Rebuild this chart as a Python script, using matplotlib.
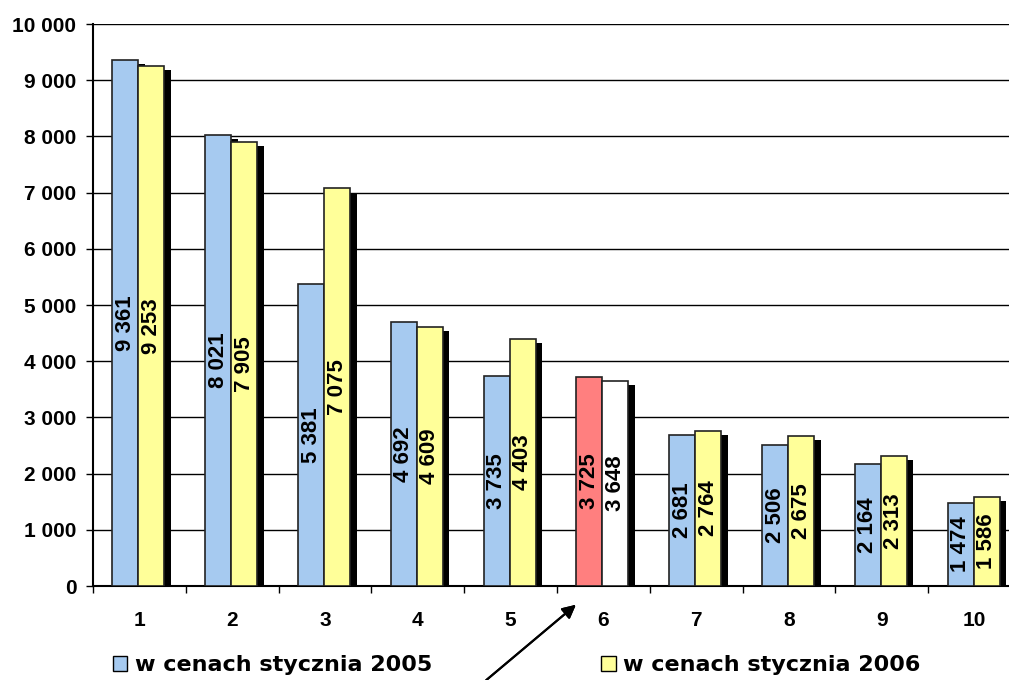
import numpy as np
import matplotlib.pyplot as plt
from matplotlib.patches import Patch

plt.rcParams['font.family'] = ['Liberation Sans', 'DejaVu Sans']
plt.rcParams['font.weight'] = 'bold'

categories = ["1", "2", "3", "4", "5", "6", "7", "8", "9", "10"]
vals_2005 = [9361, 8021, 5381, 4692, 3735, 3725, 2681, 2506, 2164, 1474]
vals_2006 = [9253, 7905, 7075, 4609, 4403, 3648, 2764, 2675, 2313, 1586]
label_2005 = "w cenach stycznia 2005"
label_2006 = "w cenach stycznia 2006"

blue = "#A6CAF0"
yellow = "#FFFF99"
colors_2005 = [blue] * 10
colors_2006 = [yellow] * 10
colors_2005[5] = "#FF7F7F"
colors_2006[5] = "#FFFFFF"


def fmt(v):
    return f"{v:,}".replace(",", " ")


fig = plt.figure(figsize=(10.09, 6.80), dpi=100)
ax = fig.add_axes([93 / 1009, 1 - 586 / 680, 928 / 1009, 562 / 680])

x = np.arange(len(categories))
w = 0.28
off_a, off_b = -0.15, 0.13
sx, sy = 0.07, 75

# shadows
ax.bar(x + off_a + sx, np.array(vals_2005) - sy, w, color="black", zorder=2)
ax.bar(x + off_b + sx, np.array(vals_2006) - sy, w, color="black", zorder=2)

ax.bar(x + off_a, vals_2005, w, color=colors_2005, edgecolor="#222222", linewidth=1.2, zorder=3)
ax.bar(x + off_b, vals_2006, w, color=colors_2006, edgecolor="#222222", linewidth=1.2, zorder=4)

for i in range(len(categories)):
    ax.text(x[i] + off_a, vals_2005[i] / 2, fmt(vals_2005[i]), rotation=90,
            ha="center", va="center", fontsize=16, fontweight="bold", zorder=5)
    ax.text(x[i] + off_b, vals_2006[i] / 2, fmt(vals_2006[i]), rotation=90,
            ha="center", va="center", fontsize=16, fontweight="bold", zorder=5)

ax.set_xlim(-0.5, 9.5)
ax.set_ylim(0, 10000)
yt = np.arange(0, 10001, 1000)
ax.set_yticks(yt)
ax.set_yticklabels([fmt(v) for v in yt], fontsize=15, fontweight="bold")
ax.yaxis.grid(True, color="black", linewidth=1)
ax.set_axisbelow(True)

ax.set_xticks(x)
ax.set_xticklabels(categories, fontsize=15, fontweight="bold")
ax.set_xticks(np.arange(-0.5, 10, 1), minor=True)
ax.tick_params(axis="x", which="major", length=0, pad=18)
ax.tick_params(axis="x", which="minor", length=5, width=1, direction="out")
ax.tick_params(axis="y", length=5, width=1, direction="out", pad=7)

for s in ["top", "right"]:
    ax.spines[s].set_visible(False)
ax.spines["left"].set_linewidth(1.5)
ax.spines["bottom"].set_linewidth(1.5)

handles = [Patch(facecolor=blue, edgecolor="black", linewidth=1),
           Patch(facecolor=yellow, edgecolor="black", linewidth=1)]
fig.legend(handles, [label_2005, label_2006], loc="center left",
           bbox_to_anchor=(104 / 1009, 1 - 665 / 680), ncol=2, frameon=False,
           prop={"family": "DejaVu Sans", "size": 16, "weight": "bold"},
           handlelength=0.65, handleheight=0.65,
           handletextpad=0.35, columnspacing=7.6, borderaxespad=0)

fig.add_artist(plt.annotate("", xy=(578 / 1009, 1 - 603 / 680), xycoords="figure fraction",
                            xytext=(484 / 1009, 1 - 682 / 680), textcoords="figure fraction",
                            arrowprops=dict(arrowstyle="-|>", color="black", lw=1.5,
                                            mutation_scale=20)))

fig.savefig("out.png", dpi=100)
